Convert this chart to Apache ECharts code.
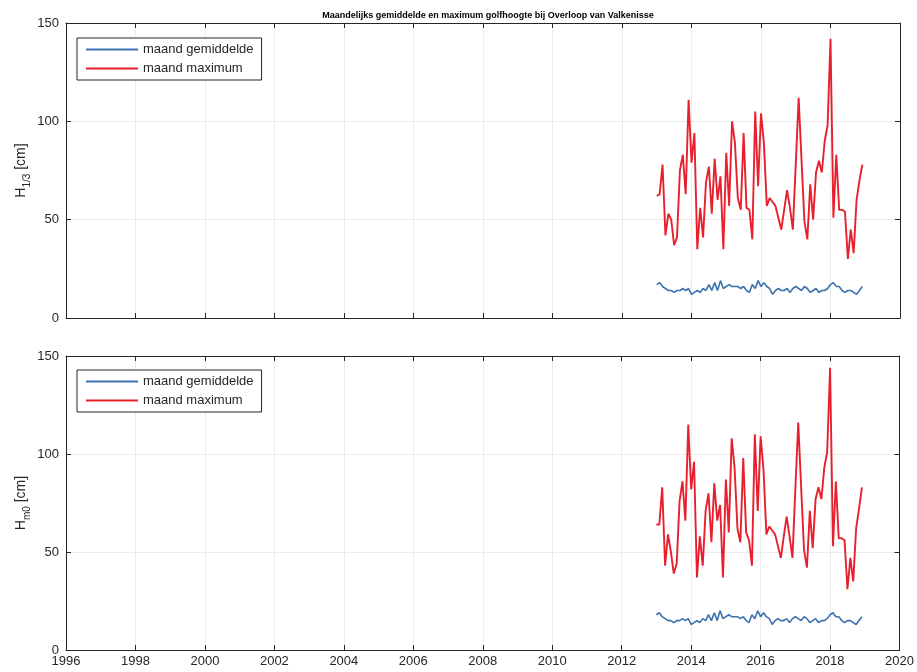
<!DOCTYPE html>
<html>
<head>
<meta charset="utf-8">
<script src="https://cdn.jsdelivr.net/npm/echarts@6/dist/echarts.min.js"></script>
<style>html,body{margin:0;padding:0;background:#fff}#c{width:917px;height:672px}</style>
</head>
<body>
<div id="c"></div>
<script>
// Monthly data, Jan 2013 .. Dec 2018
const startYear = 2013;
const xTicks = [1996, 1998, 2000, 2002, 2004, 2006, 2008, 2010, 2012, 2014, 2016, 2018, 2020];
const yTicks = [0, 50, 100, 150];

const h13Max = [
  62, 63, 78, 42, 53, 50, 37, 41, 75, 83, 63, 111,
  79, 94, 35, 56, 41, 69, 77, 53, 81, 60, 72, 35,
  84, 57, 100, 89, 61, 55, 94, 56, 55, 40, 105, 67,
  104, 89, 57, 61, 59, 57, 51, 45, 55, 65, 56, 45,
  78, 112, 80, 49, 40, 68, 50, 74, 80, 74, 90, 98,
  142, 51, 83, 55, 55, 54, 30, 45, 33, 60, 70, 78
];
const h13Mean = [
  17, 18, 16, 15, 14, 14, 13, 14, 14, 15, 14, 15,
  12, 13, 14, 13, 15, 14, 17, 14, 18, 14, 19, 15,
  16, 17, 16, 16, 16, 15, 16, 14, 13, 17, 15, 19,
  16, 18, 16, 15, 12, 14, 15, 14, 14, 15, 13, 15,
  16, 15, 14, 16, 15, 13, 14, 15, 13, 14, 14, 15,
  17, 18, 16, 16, 14, 13, 14, 14, 13, 12, 14, 16
];
const hm0Max = [
  64, 64, 83, 43, 59, 50, 39, 44, 76, 86, 66, 115,
  82, 96, 37, 58, 43, 71, 80, 55, 85, 66, 74, 37,
  87, 60, 108, 93, 62, 55, 98, 60, 56, 43, 110, 71,
  109, 92, 59, 63, 61, 59, 53, 47, 58, 68, 58, 47,
  82, 116, 83, 51, 42, 71, 52, 77, 83, 77, 93, 101,
  144, 53, 86, 57, 57, 56, 31, 47, 35, 62, 72, 83
];
const hm0Mean = [
  18, 19, 17, 16, 15, 15, 14, 15, 15, 16, 15, 16,
  13, 14, 15, 14, 16, 15, 18, 15, 19, 15, 20, 16,
  17, 18, 17, 17, 17, 16, 17, 15, 14, 18, 16, 20,
  17, 19, 17, 16, 13, 15, 16, 15, 15, 16, 14, 16,
  17, 16, 15, 17, 16, 14, 15, 16, 14, 15, 15, 16,
  18, 19, 17, 17, 15, 14, 15, 15, 14, 13, 15, 17
];

const toXY = arr => arr.map((v, i) => [startYear + i / 12, v]);

const FONT = 'Liberation Sans';
const TXT = '#262626';
const BLUE = '#3b72b0';
const RED = '#e8202e';

function xAx(grid, showLabels, top) {
  return {
    type: 'value', gridIndex: grid, min: xTicks[0], max: xTicks[xTicks.length - 1], interval: 2,
    position: top ? 'top' : 'bottom',
    axisLine: { show: true, onZero: false, lineStyle: { color: TXT, width: 1 } },
    axisTick: { show: true, inside: true, length: 5, lineStyle: { color: TXT } },
    axisLabel: { show: showLabels, color: TXT, fontFamily: FONT, fontSize: 13, margin: 5,
      formatter: v => String(v) },
    splitLine: { show: !top, lineStyle: { color: '#ececec', width: 1 } }
  };
}
function yAx(grid, name, right) {
  return {
    type: 'value', gridIndex: grid, min: yTicks[0], max: yTicks[yTicks.length - 1], interval: 50,
    position: right ? 'right' : 'left',
    name: right ? '' : name, nameLocation: 'middle', nameGap: 34, nameRotate: 90,
    nameMoveOverlap: false,
    nameTextStyle: {
      color: TXT, fontFamily: FONT, fontSize: 14,
      rich: {
        m: { fontFamily: FONT, fontSize: 14, color: TXT, lineHeight: 22, verticalAlign: 'middle' },
        s: { fontFamily: FONT, fontSize: 10, color: TXT, lineHeight: 22, verticalAlign: 'bottom' }
      }
    },
    axisLine: { show: true, onZero: false, lineStyle: { color: TXT, width: 1 } },
    axisTick: { show: true, inside: true, length: 5, lineStyle: { color: TXT } },
    axisLabel: { show: !right, color: TXT, fontFamily: FONT, fontSize: 13, margin: 7 },
    splitLine: { show: !right, lineStyle: { color: '#ececec', width: 1 } }
  };
}

const legendCommon = {
  orient: 'vertical', left: 77, itemWidth: 52, itemHeight: 2, itemGap: 6,
  icon: 'rect', borderColor: TXT, borderWidth: 1, backgroundColor: '#fff',
  padding: [5, 8, 5, 9], borderRadius: 0,
  textStyle: { color: TXT, fontFamily: FONT, fontSize: 13 },
  data: ['maand gemiddelde', 'maand maximum']
};

const option = {
  animation: false,
  backgroundColor: '#fff',
  title: {
    text: 'Maandelijks gemiddelde en maximum golfhoogte bij Overloop van Valkenisse',
    left: 483, textAlign: 'center', top: 6,
    textStyle: { fontFamily: FONT, fontSize: 9, fontWeight: 'bold', color: '#000' }
  },
  legend: [
    Object.assign({}, legendCommon, { top: 38 }),
    Object.assign({}, legendCommon, { top: 370 })
  ],
  grid: [
    { left: 66, right: 17, top: 23, height: 295 },
    { left: 66, right: 17, top: 356, height: 294 }
  ],
  xAxis: [xAx(0, false, false), xAx(0, false, true), xAx(1, true, false), xAx(1, false, true)],
  yAxis: [
    yAx(0, '{m|H}{s|1/3}{m| [cm]}', false), yAx(0, '', true),
    yAx(1, '{m|H}{s|m0}{m| [cm]}', false), yAx(1, '', true)
  ],
  series: [
    { name: 'maand gemiddelde', type: 'line', xAxisIndex: 0, yAxisIndex: 0, data: toXY(h13Mean),
      showSymbol: false, lineStyle: { color: BLUE, width: 1.6 }, itemStyle: { color: BLUE } },
    { name: 'maand maximum', type: 'line', xAxisIndex: 0, yAxisIndex: 0, data: toXY(h13Max),
      showSymbol: false, lineStyle: { color: RED, width: 1.9 }, itemStyle: { color: RED } },
    { name: 'maand gemiddelde', type: 'line', xAxisIndex: 2, yAxisIndex: 2, data: toXY(hm0Mean),
      showSymbol: false, lineStyle: { color: BLUE, width: 1.6 }, itemStyle: { color: BLUE } },
    { name: 'maand maximum', type: 'line', xAxisIndex: 2, yAxisIndex: 2, data: toXY(hm0Max),
      showSymbol: false, lineStyle: { color: RED, width: 1.9 }, itemStyle: { color: RED } }
  ]
};

const chart = echarts.init(document.getElementById('c'), null, { renderer: 'canvas' });
chart.setOption(option);
</script>
</body>
</html>
